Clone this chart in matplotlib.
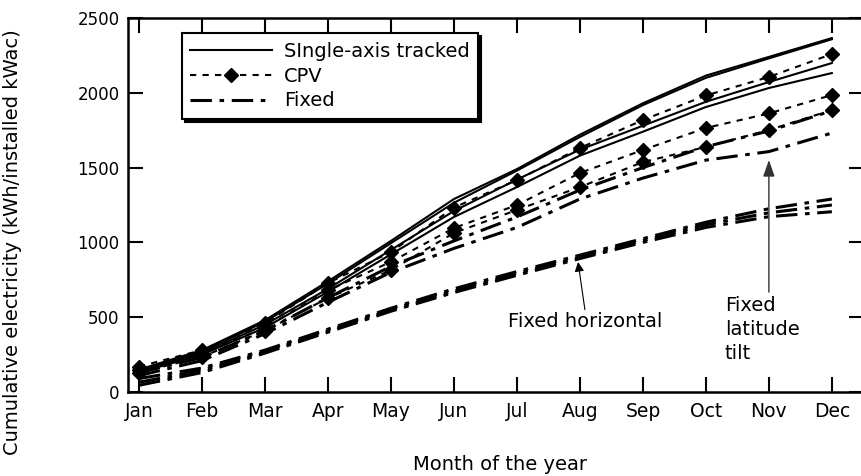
import matplotlib
matplotlib.use("Agg")
import matplotlib.pyplot as plt

months = ['Jan', 'Feb', 'Mar', 'Apr', 'May', 'Jun', 'Jul', 'Aug', 'Sep', 'Oct', 'Nov', 'Dec']

# single-axis tracked (solid)
tracked_1 = [150, 280, 480, 740, 1010, 1290, 1490, 1720, 1930, 2115, 2240, 2366]
tracked_2 = [140, 270, 470, 725, 995, 1265, 1480, 1705, 1918, 2100, 2230, 2358]
tracked_3 = [140, 260, 450, 690, 950, 1210, 1420, 1620, 1780, 1940, 2072, 2199]
tracked_4 = [130, 250, 430, 670, 920, 1170, 1370, 1580, 1740, 1905, 2032, 2132]

# CPV (dashed with diamonds)
cpv_1 = [170, 280, 460, 728, 936, 1233, 1417, 1631, 1818, 1982, 2106, 2259]
cpv_2 = [150, 255, 430, 680, 870, 1096, 1250, 1464, 1618, 1765, 1862, 1985]
cpv_3 = [130, 235, 410, 628, 815, 1063, 1217, 1370, 1537, 1638, 1751, 1885]

# fixed (long dash / short dash)
fixed_1 = [130, 230, 410, 630, 840, 1010, 1170, 1350, 1500, 1640, 1745, 1880]
fixed_2 = [110, 210, 390, 600, 800, 960, 1100, 1290, 1430, 1550, 1607, 1731]
fixed_h1 = [90, 160, 280, 420, 560, 690, 805, 915, 1025, 1135, 1225, 1290]
fixed_h2 = [65, 145, 270, 410, 550, 675, 792, 902, 1012, 1118, 1198, 1250]
fixed_h3 = [45, 130, 260, 400, 540, 665, 780, 892, 1000, 1100, 1172, 1205]

x = list(range(len(months)))

fig = plt.figure(figsize=(8.62, 4.76), dpi=100)
ax = fig.add_axes([128/862, 1-392/476, 736/862, 374/476])

solid = dict(color='black', lw=1.5, ls='-')
cpv_style = dict(color='black', lw=1.5, ls=(0, (3, 3)), marker='D', markersize=7.5)
fixed_style = dict(color='black', lw=2.2, ls=(0, (7, 2.5, 1.5, 2.5)))

l1, = ax.plot(x, tracked_1, **solid)
ax.plot(x, tracked_2, **solid)
ax.plot(x, tracked_3, **solid)
ax.plot(x, tracked_4, **solid)
l2, = ax.plot(x, cpv_1, **cpv_style)
ax.plot(x, cpv_2, **cpv_style)
ax.plot(x, cpv_3, **cpv_style)
l3, = ax.plot(x, fixed_1, **fixed_style)
ax.plot(x, fixed_2, **fixed_style)
ax.plot(x, fixed_h1, **fixed_style)
ax.plot(x, fixed_h2, **fixed_style)
ax.plot(x, fixed_h3, **fixed_style)

ax.set_xlim(-0.175, 11.51)
ax.set_ylim(0, 2500)
ax.set_xticks(x)
ax.set_xticklabels(months)
ax.set_yticks([0, 500, 1000, 1500, 2000, 2500])
ax.tick_params(direction='in', length=11, width=1.5,
               top=True, right=True)
ax.tick_params(axis='x', labelsize=13.5, pad=7)
ax.tick_params(axis='y', labelsize=12, pad=6)
for s in ax.spines.values():
    s.set_linewidth(1.8)

leg = ax.legend([l1, l2, l3], ['SIngle-axis tracked', 'CPV', 'Fixed'],
                loc='upper left', bbox_to_anchor=(0.073, 0.96), borderaxespad=0,
                fontsize=14, handlelength=4.2, handletextpad=0.6, numpoints=1,
                fancybox=False, shadow={'color': 'black', 'alpha': 1}, framealpha=1,
                labelspacing=0.3, borderpad=0.45)
leg.get_frame().set_edgecolor('black')
leg.get_frame().set_linewidth(1.5)

ax.annotate('Fixed horizontal', xy=(6.97, 869), xytext=(5.86, 468),
            fontsize=14, va='center', ha='left',
            arrowprops=dict(arrowstyle='-|>', color='black', lw=0.8,
                            shrinkA=0, shrinkB=0, relpos=(0.5, 1)))
ax.annotate('', xy=(10, 1551), xytext=(10, 668),
            arrowprops=dict(arrowstyle='-|>,head_length=1.0,head_width=0.35',
                            color='#333333', lw=1, shrinkA=0, shrinkB=0))
ax.text(9.3, 640, 'Fixed\nlatitude\ntilt', fontsize=14, va='top', ha='left',
        linespacing=1.32)

fig.text(500/862, 1-465/476, 'Month of the year', fontsize=14, ha='center', va='center')
fig.text(13/862, 1-242/476, 'Cumulative electricity (kWh/installed kWac)', fontsize=14,
         rotation=90, ha='center', va='center')

fig.savefig('out.png', dpi=100)
